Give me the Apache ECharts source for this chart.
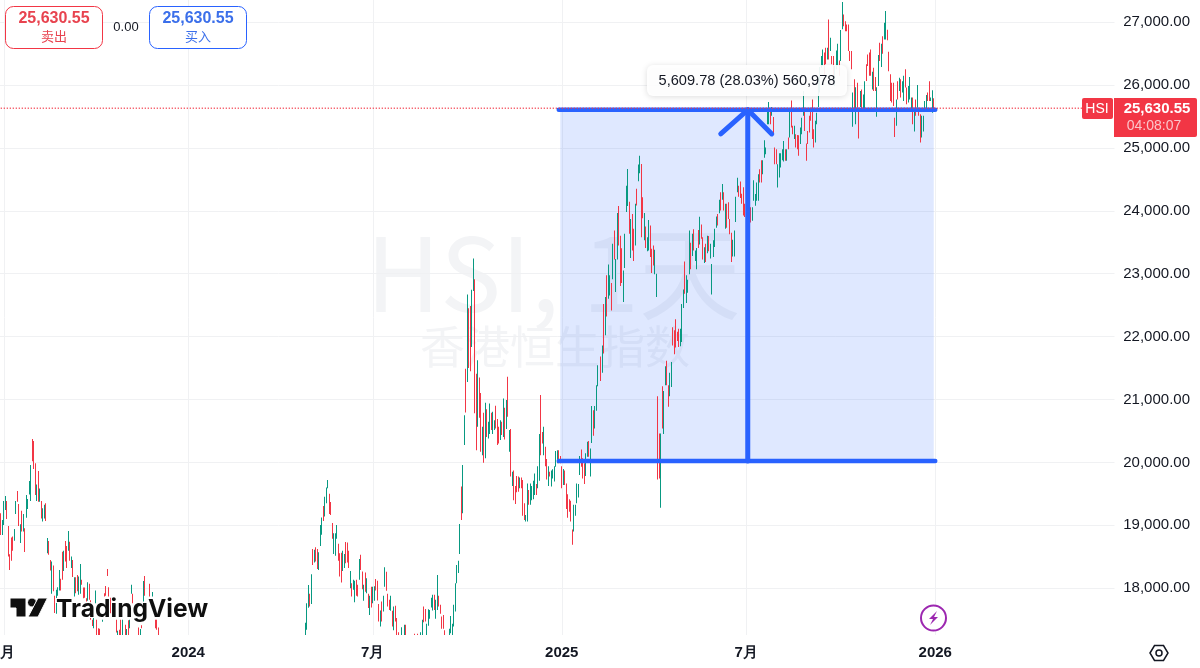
<!DOCTYPE html>
<html>
<head>
<meta charset="utf-8">
<title>HSI</title>
<script src="https://cdn.jsdelivr.net/npm/echarts@6/dist/echarts.min.js"></script>
<style>
  html, body { margin: 0; padding: 0; background: #fff; }
  #main { width: 1200px; height: 668px; }
</style>
</head>
<body>
<div id="main"></div>
<script>
// every candle is [open, close], rising bars are green and falling bars red
const candles2023 = [
  [19190,18845],[18845,19085],[19005,19385],[19245,19465],[19385,19100],[18990,18505],[18540,18290],[18805,18435],
  [18820,18595],[18755,18940],[19180,19385],[19545,19375],[19340,18990],[18720,19015],[19230,18900],[18900,19180],
  [18955,18575],[19120,19480],[19260,19420],[19490,19705],[19385,19960],[20370,20020],[20340,19895],[19985,19480],
  [19385,19650],[19865,19375],[19375,19585],[19385,19110],[19060,19270],[19110,19325],[19350,19070],[18555,18800],
  [18750,18530],[18450,18280],[17910,18425],[18360,17950],[17880,17605],[17595,17975],[17880,18015],[17965,18290],
  [18150,17965],[18580,18135],[18275,18595],[18750,18425],[18670,18320],[18595,18910],[18740,18435],[18320,18505],
  [18450,18180],[17870,18175],[18175,17920],[18210,17950],[17895,18185],[17910,18385],[18135,18055],[18010,17840],
  [18010,17850],[17840,17790],[17800,18095],[18070,17815],[17810,17500],[17500,17400],[17365,17525],[17760,17965],
  [17500,17000],[17365,17000],[17355,17000],null,[17465,17500],[17920,17870],[18035,17880],[18305,18195],
  [18015,17870],[17850,17600],null,null,null,[17500,17295],[17000,17325],[17340,17000],[17500,17000],[17000,17500],
  null,[17420,17000],[17000,17350],[17490,17000],[17365,17500],[17910,18055],[17910,17760],null,null,null,
  [17375,17000],[17000,17350],[17410,17365],[17790,18115],[18195,17880],null,null,[18070,17870],null,[17870,17940],
  null,[17500,17365],[17500,17340],[17375,17000]
]
const candles2024 = [
  [17000,17450],[17340,17760],[17690,18050],[17910,17710],[17750,18220],[18625,18370],[18410,18610],[18650,18425],
  [18625,18305],[18290,18570],[18670,19005],[18850,19125],[19305,19070],[19140,19455],[19350,19600],[19590,19720],
  [19500,19180],[19370,19165],[19035,18785],[18545,18875],[18515,18875],[18785,19005],[18705,18435],[18555,18185],
  [18565,18090],[18275,18595],[18320,18545],[18735,18395],[18725,18410],[18595,18320],[18000,18275],[18080,17870],
  [17975,18135],[17775,18120],[18135,17880],[18055,17870],[18135,18465],[18530,18290],[18265,17985],[17800,18055],
  [18250,17945],[17920,18160],[17910,17685],[17575,17880],[18025,17695],[17760,18025],[17800,18030],[18145,17965],
  [18120,17805],[17750,17470],[17390,17645],[17790,17470],[17630,17880],[18025,18335],[18260,17960],[17910,17710],
  [17815,17655],[17640,17880],[17640,17390],[17330,17710],[17720,17470],[17525,17000],[17300,17000],null,
  [17000,17380],null,[17000,17420],[17420,17000],null,null,null,null,null,[17275,17000],null,[17275,17000],null,
  [17000,17300],[17000,17500],[17710,17460],[17670,17470],[17000,17435],[17405,17665],[17515,17655],[17695,17850],
  [17645,17895],[17895,17655],[17515,17815],[17655,18210],[17880,17710],[17735,17595],[17550,17355],[17575,17355],
  [17330,17000],null,null,[17000,17355],[17285,17560],[17000,17435],[17390,17735],[17630,18080],[18080,18370],
  [18240,18435],[18545,19020],[19615,19085],[19190,19960],[20275,20750],[21490,20795],[21280,22670],[22450,21500],
  [22485,21450],[21835,22745],[22725,23240],[22910,20780],[21410,20195],[20565,21625],[21350,20710],[21105,20170],
  [20115,20565],[20790,19995],[20065,20950],[20845,20405],[20380,20645],[20450,20935],[20790,20515],[20450,20805],
  [20515,20670],[20900,20540],[20690,20275],[20565,20300],[20355,20670],[20645,20435],[20405,21015],[20870,20365],
  [20530,20990],[21360,20725],[20170,20515],[20530,19775],[19625,19850],[19870,19400],[19625,19340],[19785,19525],
  [19775,19535],[19590,19760],[19760,19590],[19720,19150],[19350,19085],[19060,19165],[19060,19665],[19560,19325],
  [19325,19665],[19400,19625],[19415,19710],[19480,19825],[19655,19480],[19590,19940],[19710,20450],[21070,20115],
  [20485,20300],[20115,20565],[20250,19940],[20055,19730],[19625,19940],[19850,19775],[19615,19870],[19745,19890],
  [19695,19940],[19930,20180],[19985,20195],[20195,19985],[20100,19985],[19940,19590],[19640,19895],[19870,19640],
  [19665,19260],[19495,19120],[19415,19215],[19390,19060],[18935,18690],[18900,19325],[19150,19325],[19350,19665],
  [19440,19655],[19800,20100],[20205,19930],[20065,19745],[19985,19655],[19785,20145],[20090,20330],[20340,20090],
  [19775,20220],[20310,20895],[20830,20425],[20540,20895],[20820,21225],[21210,21545]
]
const candles2025a = [
  [21685,21295],[21425,21860],[22520,21730],[22020,22630],[22975,22320],[22600,23145],[22655,22975],[22850,22415],
  [22910,23475],[23685,23225],[22710,23235],[23225,23965],[24075,23450],[23605,22805],[23405,22850],[22550,23050],
  [23090,23635],[23980,24400],[24075,24665],[24145,23635],[23250,23870],[23950,23370],[23715,23200],[23450,24110],
  [24350,24085],[24470,24735],[24595,24875],[24745,23580],[24215,23880],[23530,23965],[23750,23410],[23355,23580],
  [23370,23855],[23765,23265],[23395,23010],[23450,23130],[22990,23380],[22630,23000],[21050,19730],[20460,19745],
  [19280,20460],[21210,20540],[20450,21135],[21225,21530],[21615,21225],[21225,20885],[21050,21425],[21200,21595],
  [22150,21860],[22100,21720],[22275,21825],[22075,21930],[22125,21835],[21845,22125],[21915,22520],[22455,22750],
  [23195,22680],[22535,22975],[22695,22905],[22990,23685],[23490,23070],[23280,23635],[23705,23370],[23200,23370],
  [23070,23410],[23695,23410],[23465,23905],[23780,23555],[23580,23225],[23170,23420],[23475,23185],[23325,23605],
  [23600,23355],[23240,23475],[22670,23155],[23265,23530],[23425,23715],[23730,23910],[23950,23765],[23960,24175],
  [24295,24005],[24175,24425],[24295,24005],[23715,24110],[24110,23730],[24135,23870],[23870,23625],[23650,23185],
  [23275,23540],[23275,23685],[23820,24225],[24295,24525],[24400,24225],[24465,24205],[24270,24110],[24375,23925],
  [24110,23900]
]
const candles2025b = [
  [23685,24160],[24160,23895],[24055,23815],[23840,24055],[24160,24485],[24080,24265],[24160,24450],[24160,24580],
  [24660,24450],[24805,24450],[24580,24805],[24845,25120],[24900,25005],[25375,25590],[25375,25730],[25640,25375],
  [25510,25650],[25490,25215],[25005,24740],[24980,24740],[24370,24740],[24530,24915],[24690,24915],[24805,24980],
  [24785,25110],[24980,24795],[24795,24980],[25165,24980],[25165,25585],[25755,25325],[25350,25215],[25140,25350],
  [25215,25005],[25205,24980],[25200,24875],[25060,25325],[25215,25480],[25510,25905],[25640,25270],[25070,24795],
  [25270,25060],[25510,25245],[25640,25430],[25770,25140],[25295,25005],[25085,25430],[25375,25560],[25650,26125],
  [25880,26285],[26275,26460],[26300,26565],[26515,26145],[26590,26330],[26407,26592],[27040,26405],[26540,26750],
  [26460,26330],[26460,26145],[25985,26300],[26250,26550],[26300,26655],[26390,26145],[26380,26875],[26885,27320],
  [27120,26935],[27015,26855],[26960,26855],[26960,26540],[26540,26380],[26540,26250],[25335,25880],[26090,25615],
  [25375,25965],[26035,25640],[25640,25150],[25650,25905],[25930,25615],[25590,25850],[25600,26060],[26328,26063],
  [26485,26300],[26515,26145],[26565,26145],[25930,26210],[26275,25905],[26125,25905],[25495,25965],[25985,26475],
  [26670,26380],[26285,26655],[26775,26495],[26725,26990],[26725,27175],[26880,26710],[26530,26220],[26170,25745],
  [26035,25720],[26035,25665],[25480,25175],[25350,25770],[26060,25770],[25905,26115],[26090,25800],[25880,26060],
  [25745,26145],[26250,25960],[25960,25695],[25720,25985],[25770,26125],[25615,25800],[25800,25375],[25260,25640],
  [25770,25510],[25640,26000],[25640,25510],[25535,25085],[25165,25510],[25260,25510],[25615,25745],[25615,25840],
  [25880,25745],[26060,25745],[25745,25800],[25560,25915],[25790,25630.55]
]
const segmentStarts = [0, 203, 400, 498]
const barCount = 743

const yTicks = [18000, 19000, 20000, 21000, 22000, 23000, 24000, 25000, 26000, 27000]
const tickPositions = [2, 125, 248, 374, 497, 623]
const tickLabels = ['7月', '2024', '7月', '2025', '7月', '2026']

const lastPrice = 25630.55
const measureHigh = 25605
const measureLow = 20020.77
const measureLeft = 372
const measureRight = 623
const arrowBar = 498
const arrowLeft = 480
const arrowRight = 514
const arrowWingPrice = 25222

const UP = '#089981'
const DOWN = '#F23645'
const BLUE = '#2962FF'
const INK = '#131722'
const FONT = '"Liberation Sans", Arial, sans-serif'
const CJK = '"Noto Sans CJK SC", sans-serif'

const categories = new Array(barCount).fill('')
tickPositions.forEach((p, i) => { categories[p] = tickLabels[i] })

const candleData = []
;[candles2023, candles2024, candles2025a, candles2025b].forEach((seg, s) => {
  seg.forEach((c, i) => {
    if (c) candleData.push([segmentStarts[s] + i, c[0], c[1]])
  })
})

const priceLine = new Array(barCount).fill(lastPrice).map((v, i) => [i, v])

// the candles are about a pixel wide here, so each one is a solid bar snapped to the pixel grid
const renderCandle = (params, api) => {
  const open = api.value(1)
  const close = api.value(2)
  const from = api.coord([api.value(0), open])
  const to = api.coord([api.value(0), close])
  const cs = params.coordSys
  const shape = echarts.graphic.clipRectByRect(
    { x: Math.floor(from[0]), y: Math.min(from[1], to[1]), width: 1, height: Math.abs(from[1] - to[1]) },
    { x: cs.x, y: cs.y, width: cs.width, height: cs.height },
  )
  if (!shape) return null
  return { type: 'rect', shape, style: { fill: close >= open ? UP : DOWN } }
}

const drawLine = (data, width) => ({
  type: 'line',
  data,
  z: 4,
  silent: true,
  showSymbol: false,
  symbol: 'none',
  lineStyle: { color: BLUE, width, cap: 'round', join: 'round' },
})

const chart = echarts.init(document.getElementById('main'), null, { renderer: 'canvas' })

const option = {
  animation: false,
  backgroundColor: '#fff',
  grid: { left: 0, right: 85.5, top: 0, bottom: 33, outerBoundsMode: 'none' },
  tooltip: { show: false },
  xAxis: {
    type: 'category',
    data: categories,
    axisLine: { show: false },
    axisTick: { show: false },
    splitLine: {
      show: true,
      alignWithLabel: true,
      interval: (i) => tickPositions.includes(i),
      lineStyle: { color: '#f0f1f3', width: 1 },
    },
    axisLabel: {
      interval: (i) => tickPositions.includes(i),
      margin: 10,
      color: INK,
      fontFamily: CJK,
      fontSize: 14,
      formatter: (v) => (/^\d/.test(v) ? `{year|${v}}` : v),
      rich: { year: { fontFamily: '"Liberation Sans", sans-serif', fontWeight: 'bold', fontSize: 15, color: INK } },
    },
  },
  yAxis: {
    type: 'value',
    position: 'right',
    min: 17256,
    max: 27351,
    axisLine: { show: false },
    axisTick: { show: false, customValues: yTicks },
    splitLine: { show: true, lineStyle: { color: '#f0f1f3', width: 1 } },
    axisLabel: {
      customValues: yTicks,
      align: 'right',
      margin: 75.5,
      color: INK,
      fontFamily: FONT,
      fontSize: 15,
      formatter: (v) => v.toLocaleString('en-US', { minimumFractionDigits: 2 }),
    },
  },
  graphic: [
    // watermark
    { type: 'text', z: -1, left: 366, top: 222, style: { text: 'HSI, 1天', font: '102px "Noto Sans CJK SC", sans-serif', fill: '#f3f4f6' } },
    { type: 'text', z: -1, left: 420, top: 324, style: { text: '香港恒生指数', font: '45px "Noto Sans CJK SC", sans-serif', fill: '#f3f4f6' } },
    // sell / buy boxes
    { type: 'rect', z: 100, shape: { x: 5.5, y: 6.5, width: 97, height: 42, r: 8 }, style: { fill: '#fff', stroke: DOWN, lineWidth: 1 } },
    { type: 'text', z: 101, x: 54, y: 19, style: { text: '25,630.55', font: 'bold 16px "Liberation Sans"', fill: '#E8434F', align: 'center', verticalAlign: 'middle' } },
    { type: 'text', z: 101, x: 54, y: 36, style: { text: '卖出', font: '13px "Noto Sans CJK SC"', fill: '#E8434F', align: 'center', verticalAlign: 'middle' } },
    { type: 'text', z: 101, x: 126, y: 27, style: { text: '0.00', font: '13px "Liberation Sans"', fill: INK, align: 'center', verticalAlign: 'middle' } },
    { type: 'rect', z: 100, shape: { x: 149.5, y: 6.5, width: 97, height: 42, r: 8 }, style: { fill: '#fff', stroke: BLUE, lineWidth: 1 } },
    { type: 'text', z: 101, x: 198, y: 19, style: { text: '25,630.55', font: 'bold 16px "Liberation Sans"', fill: '#3B6FEA', align: 'center', verticalAlign: 'middle' } },
    { type: 'text', z: 101, x: 198, y: 36, style: { text: '买入', font: '13px "Noto Sans CJK SC"', fill: '#3B6FEA', align: 'center', verticalAlign: 'middle' } },
    // measure label
    { type: 'rect', z: 100, shape: { x: 647, y: 65, width: 200, height: 31, r: 6 }, style: { fill: 'rgba(255,255,255,0.92)', shadowBlur: 6, shadowColor: 'rgba(0,0,0,0.15)', shadowOffsetY: 1 } },
    { type: 'text', z: 101, x: 747, y: 80.5, style: { text: '5,609.78 (28.03%) 560,978', font: '14.6px "Liberation Sans"', fill: INK, align: 'center', verticalAlign: 'middle' } },
    // price labels
    { type: 'rect', z: 100, shape: { x: 1082, y: 98, width: 31, height: 21, r: 2 }, style: { fill: DOWN } },
    { type: 'text', z: 101, x: 1097, y: 109, style: { text: 'HSI', font: '14px "Liberation Sans"', fill: '#fff', align: 'center', verticalAlign: 'middle' } },
    { type: 'rect', z: 100, shape: { x: 1114, y: 98, width: 83, height: 39, r: [0, 2, 2, 0] }, style: { fill: DOWN } },
    { type: 'text', z: 101, x: 1157, y: 108.5, style: { text: '25,630.55', font: 'bold 15px "Liberation Sans"', fill: '#fff', align: 'center', verticalAlign: 'middle' } },
    { type: 'text', z: 101, x: 1154, y: 126, style: { text: '04:08:07', font: '14px "Liberation Sans"', fill: '#fbc4ca', align: 'center', verticalAlign: 'middle' } },
    // logo
    { type: 'polygon', z: 100, shape: { points: [[10, 598], [26, 598], [26, 617], [16, 617], [16, 608], [10, 608]] }, style: { fill: '#0f0f0f', stroke: '#fff', lineWidth: 1 } },
    { type: 'circle', z: 100, shape: { cx: 32, cy: 602.5, r: 4.5 }, style: { fill: '#0f0f0f', stroke: '#fff', lineWidth: 1 } },
    { type: 'polygon', z: 100, shape: { points: [[38, 598], [47.5, 598], [38, 617], [28, 617]] }, style: { fill: '#0f0f0f', stroke: '#fff', lineWidth: 1 } },
    { type: 'text', z: 100, x: 56, y: 609.5, style: { text: 'TradingView', font: '700 24.6px Inter', fill: '#0f0f0f', stroke: '#fff', lineWidth: 2, strokeFirst: true, verticalAlign: 'middle' } },
    // lightning icon
    { type: 'circle', z: 100, shape: { cx: 933.5, cy: 618, r: 12.5 }, style: { fill: '#fff', stroke: '#9C27B0', lineWidth: 2 } },
    { type: 'polygon', z: 101, shape: { points: [[937, 611], [929, 619], [933, 619], [930, 625], [938, 617], [934, 617]] }, style: { fill: '#9C27B0' } },
    // settings icon
    { type: 'polygon', z: 100, shape: { points: [[1150, 653], [1154.5, 645.5], [1163.5, 645.5], [1168, 653], [1163.5, 660.5], [1154.5, 660.5]] }, style: { fill: 'none', stroke: INK, lineWidth: 1.5 } },
    { type: 'circle', z: 100, shape: { cx: 1159, cy: 653, r: 3 }, style: { fill: 'none', stroke: INK, lineWidth: 1.5 } },
  ],
  series: [
    {
      type: 'line',
      data: [],
      z: 1,
      silent: true,
      markArea: {
        silent: true,
        itemStyle: { color: 'rgba(41,98,255,0.15)' },
        data: [[{ xAxis: measureLeft + 1, yAxis: measureHigh }, { xAxis: measureRight - 1, yAxis: measureLow }]],
      },
    },
    {
      type: 'custom',
      data: candleData,
      z: 2,
      silent: true,
      clip: true,
      encode: { x: 0, y: [1, 2] },
      renderItem: renderCandle,
    },
    drawLine([[measureLeft, measureHigh], [measureRight, measureHigh]], 4.5),
    drawLine([[measureLeft, measureLow], [measureRight, measureLow]], 4.5),
    drawLine([[arrowBar, measureLow], [arrowBar, measureHigh]], 5),
    drawLine([[arrowLeft, arrowWingPrice], [arrowBar, measureHigh], [arrowRight, arrowWingPrice]], 5),
    {
      type: 'line',
      data: priceLine,
      z: 5,
      silent: true,
      showSymbol: false,
      symbol: 'none',
      lineStyle: { color: DOWN, type: [1, 2], width: 1.4 },
    },
  ],
}

chart.setOption(option)
</script>
</body>
</html>
